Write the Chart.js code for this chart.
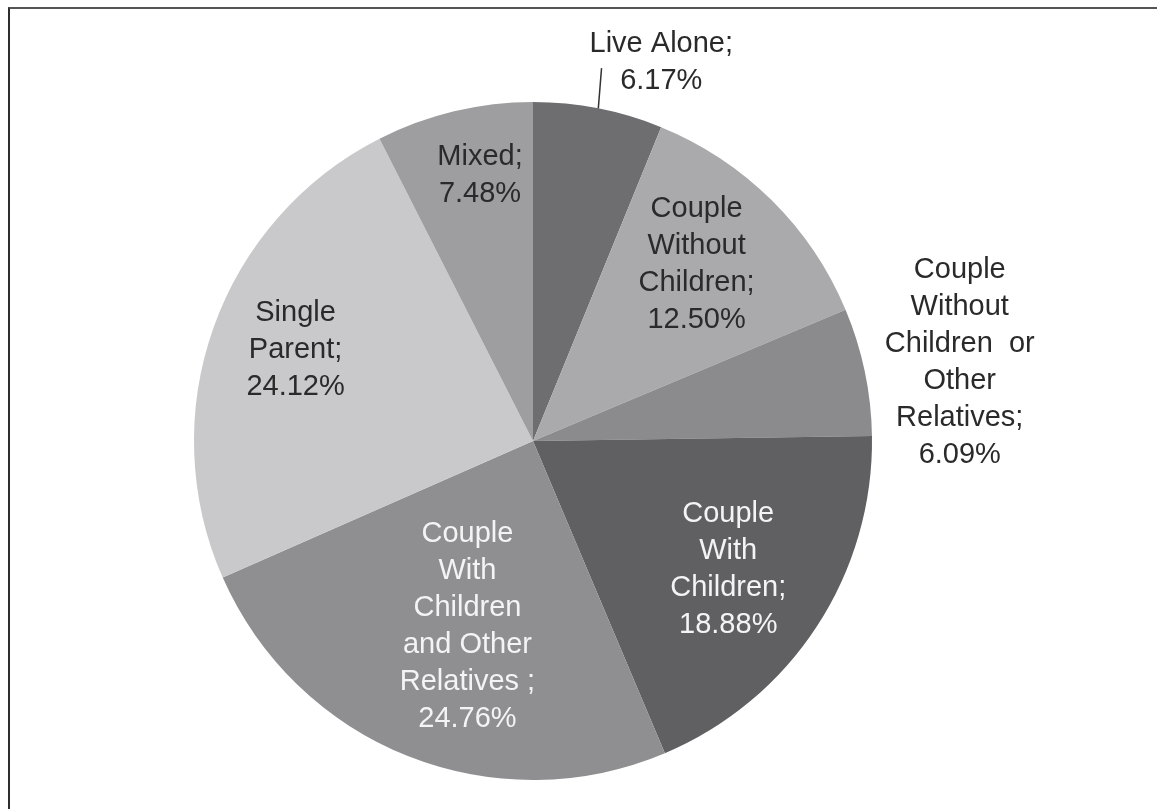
<!DOCTYPE html>
<html>
<head>
<meta charset="utf-8">
<script src="https://cdn.jsdelivr.net/npm/chart.js@4.4.1/dist/chart.umd.min.js"></script>
<style>
  html, body { margin: 0; padding: 0; background: #fff; }
  #wrap { position: relative; width: 1157px; height: 809px; overflow: hidden; }
  #frame { position: absolute; left: 8px; top: 7px; width: 1200px; height: 900px;
           border-left: 2px solid #2e2e2e; border-top: 2px solid #555; }
  canvas { position: absolute; left: 0; top: 0; }
</style>
</head>
<body>
<div id="wrap">
  <div id="frame"></div>
  <canvas id="pie" width="1157" height="809"></canvas>
</div>
<script>
// household types, split the way the labels wrap
const nameLines = [
  ['Live Alone'],
  ['Couple', 'Without', 'Children'],
  ['Couple', 'Without', 'Children  or', 'Other', 'Relatives'],
  ['Couple', 'With', 'Children'],
  ['Couple', 'With', 'Children', 'and Other', 'Relatives '],
  ['Single', 'Parent'],
  ['Mixed']
];
const categories = nameLines.map(l => l.join(' '));
const shares = [6.17, 12.50, 6.09, 18.88, 24.76, 24.12, 7.48];

const sliceColors = ['#6e6e71', '#aaaaac', '#8b8b8e', '#606063', '#8f8f92', '#c9c9cb', '#9e9ea0'];
const labelColors = ['#2a2a2a', '#2a2a2a', '#2a2a2a', '#f4f4f4', '#f4f4f4', '#2a2a2a', '#2a2a2a'];

// label placement: fraction of the radius along the slice middle, plus a small angle nudge (deg)
const labelRadius = [1.18, 0.71, 1.28, 0.69, 0.58, 0.75, 0.80];
const labelNudge = [7.6, -1.9, 1.4, 0.3, -2.2, 1.3, 2.2];
const showLeader = [true, false, false, false, false, false, false];

const FONT = '29px "Liberation Sans", Arial, sans-serif';
const LINE_H = 37;

const sliceLabels = {
  id: 'sliceLabels',
  afterDatasetsDraw(chart) {
    const ctx = chart.ctx;
    const meta = chart.getDatasetMeta(0);
    ctx.save();
    ctx.font = FONT;
    ctx.textAlign = 'center';
    ctx.textBaseline = 'middle';
    meta.data.forEach((arc, i) => {
      const p = arc.getProps(['x', 'y', 'startAngle', 'endAngle', 'outerRadius'], true);
      const mid = (p.startAngle + p.endAngle) / 2;
      const a = mid + labelNudge[i] * Math.PI / 180;
      const lx = p.x + Math.cos(a) * p.outerRadius * labelRadius[i];
      const ly = p.y + Math.sin(a) * p.outerRadius * labelRadius[i];

      const lines = nameLines[i].slice();
      lines[lines.length - 1] += ';';
      lines.push(shares[i].toFixed(2) + '%');

      const top = ly - (lines.length - 1) * LINE_H / 2;
      ctx.fillStyle = labelColors[i];
      lines.forEach((t, k) => ctx.fillText(t, lx, top + k * LINE_H));

      // short leader from the rim up to the label
      if (showLeader[i]) {
        const w = ctx.measureText(lines[0]).width;
        const ex = p.x + Math.cos(mid) * p.outerRadius;
        const ey = p.y + Math.sin(mid) * p.outerRadius;
        ctx.strokeStyle = '#333';
        ctx.lineWidth = 1.5;
        ctx.beginPath();
        ctx.moveTo(ex, ey);
        ctx.lineTo(lx - w / 2 + 12, ly + 6);
        ctx.stroke();
      }
    });
    ctx.restore();
  }
};

function draw() {
  new Chart(document.getElementById('pie'), {
    type: 'pie',
    data: {
      labels: categories,
      datasets: [{
        data: shares,
        backgroundColor: sliceColors,
        borderWidth: 0
      }]
    },
    options: {
      responsive: false,
      animation: false,
      layout: { padding: { left: 194, right: 285, top: 102, bottom: 29 } },
      plugins: {
        legend: { display: false },
        tooltip: { enabled: false }
      }
    },
    plugins: [sliceLabels]
  });
}

document.fonts.load(FONT).then(draw, draw);
</script>
</body>
</html>
